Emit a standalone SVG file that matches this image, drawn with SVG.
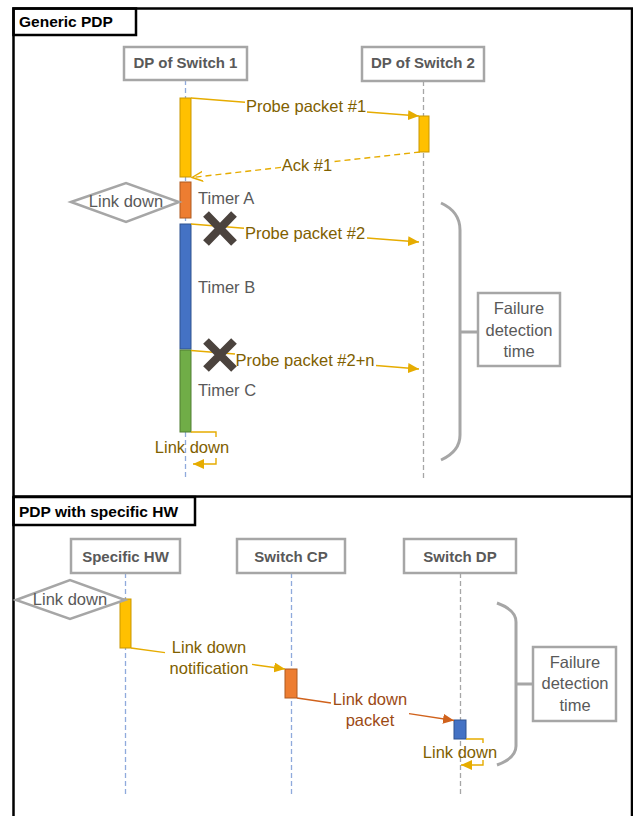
<svg xmlns="http://www.w3.org/2000/svg" width="633" height="816" viewBox="0 0 633 816">
  <style>
    .frame { fill: none; stroke: #000; stroke-width: 2.5; }
    .title { font-family: "Liberation Sans", Arial, sans-serif; font-size: 15.5px; font-weight: bold; fill: #000; }
    .head rect { fill: #fff; stroke: #a6a6a6; stroke-width: 2.5; }
    .head text { font-family: "Liberation Sans", Arial, sans-serif; font-size: 15px; font-weight: bold; fill: #595959; text-anchor: middle; }
    .life-b { stroke: #8faadc; stroke-width: 1.3; stroke-dasharray: 5 3; fill: none; }
    .life-g { stroke: #a6a6a6; stroke-width: 1.3; stroke-dasharray: 5 3; fill: none; }
    .lbl { font-family: "Liberation Sans", Arial, sans-serif; font-size: 16.5px; fill: #806000; }
    .lbl-o { font-family: "Liberation Sans", Arial, sans-serif; font-size: 16.5px; fill: #9c4a14; }
    .gray { font-family: "Liberation Sans", Arial, sans-serif; font-size: 16.5px; fill: #595959; }
    .mid { text-anchor: middle; }
    .msg { fill: none; stroke: #e6ac00; stroke-width: 1.4; }
    .msg-o { fill: none; stroke: #d0621c; stroke-width: 1.4; }
    .dash { stroke-dasharray: 6 4; }
    .bar-y { fill: #ffc000; stroke: #c99700; stroke-width: 1; }
    .bar-o { fill: #ed7d31; stroke: #ae5a21; stroke-width: 1; }
    .bar-b { fill: #4472c4; stroke: #2f528f; stroke-width: 1; }
    .bar-g { fill: #70ad47; stroke: #507e32; stroke-width: 1; }
    .diamond { fill: #fff; stroke: #a6a6a6; stroke-width: 2.5; }
    .brace { fill: none; stroke: #a6a6a6; stroke-width: 3; }
    .box { fill: #fff; stroke: #a6a6a6; stroke-width: 2.5; }
    .cross { stroke: #4b433e; stroke-width: 8; }
  </style>
  <defs>
    <marker id="arr" markerUnits="userSpaceOnUse" markerWidth="12" markerHeight="10" refX="11" refY="5" orient="auto">
      <path d="M0,0 L11,5 L0,10 Z" fill="#e6ac00"/>
    </marker>
    <marker id="arr-o" markerUnits="userSpaceOnUse" markerWidth="12" markerHeight="10" refX="11" refY="5" orient="auto">
      <path d="M0,0 L11,5 L0,10 Z" fill="#d0621c"/>
    </marker>
    <marker id="open" markerUnits="userSpaceOnUse" markerWidth="12" markerHeight="12" refX="11" refY="6" orient="auto">
      <path d="M0,1 L11,6 L0,11" fill="none" stroke="#e6ac00" stroke-width="1.4"/>
    </marker>
  </defs>

  <!-- panel frames -->
  <g id="frames">
    <rect class="frame" x="13.5" y="8.5" width="618.5" height="488"/>
    <path class="frame" d="M13.5,497 V816 M632,497 V816"/>
    <rect class="frame" x="13.5" y="8.5" width="122.5" height="26.5"/>
    <text class="title" x="19" y="27">Generic PDP</text>
    <rect class="frame" x="13.5" y="497" width="181.5" height="28"/>
    <text class="title" x="19" y="517">PDP with specific HW</text>
  </g>

  <!-- lifelines -->
  <g id="lifelines">
    <path class="life-b" d="M185.5,80 V478"/>
    <path class="life-g" d="M423.5,81 V478"/>
    <path class="life-b" d="M125.5,573 V797"/>
    <path class="life-b" d="M291.5,573 V797"/>
    <path class="life-g" d="M460.5,573 V797"/>
  </g>

  <!-- participants -->
  <g id="dp-switch-1" class="head">
    <rect x="124" y="47" width="123" height="33"/>
    <text x="185.5" y="68">DP of Switch 1</text>
  </g>
  <g id="dp-switch-2" class="head">
    <rect x="362" y="47" width="122" height="34"/>
    <text x="423" y="68">DP of Switch 2</text>
  </g>
  <g id="specific-hw" class="head">
    <rect x="71" y="539" width="109" height="34"/>
    <text x="125.5" y="562">Specific HW</text>
  </g>
  <g id="switch-cp" class="head">
    <rect x="237" y="539" width="108" height="34"/>
    <text x="291" y="562">Switch CP</text>
  </g>
  <g id="switch-dp" class="head">
    <rect x="404" y="539" width="112" height="34"/>
    <text x="460" y="562">Switch DP</text>
  </g>

  <!-- activation bars -->
  <g id="activations">
    <rect class="bar-y" x="180" y="98" width="11" height="79"/>
    <rect class="bar-o" x="180" y="182" width="11" height="36"/>
    <rect class="bar-b" x="180" y="224" width="11" height="125"/>
    <rect class="bar-g" x="180" y="350" width="11" height="82"/>
    <rect class="bar-y" x="419" y="116" width="10" height="36"/>
    <rect class="bar-y" x="120" y="599" width="11" height="49"/>
    <rect class="bar-o" x="285" y="669" width="12" height="29"/>
    <rect class="bar-b" x="454" y="720" width="12" height="19"/>
  </g>

  <!-- link-down events -->
  <g id="link-down-1">
    <polygon class="diamond" points="71,202 126,183 179,202 126,222"/>
    <text class="gray mid" x="126" y="207">Link down</text>
  </g>
  <g id="link-down-2">
    <polygon class="diamond" points="16,600 70,580 125,600 70,619"/>
    <text class="gray mid" x="70" y="605">Link down</text>
  </g>

  <!-- timers -->
  <g id="timers">
    <text class="gray" x="198" y="204">Timer A</text>
    <text class="gray" x="198" y="293">Timer B</text>
    <text class="gray" x="198" y="396">Timer C</text>
  </g>

  <!-- messages -->
  <g id="connectors">
    <path class="msg" d="M191,98 L245,102.3 M367,112 L419,116" marker-end="url(#arr)"/>
    <path class="msg dash" d="M420,152 L333,161.7 M281,167.4 L192,177.5" marker-end="url(#open)"/>
    <path class="msg" d="M191,224 L244,228.2 M367,238 L419,242" marker-end="url(#arr)"/>
    <path class="msg" d="M191,350.5 L235,354 M376,365.5 L419,369" marker-end="url(#arr)"/>
    <path class="msg" d="M191,432 H216 V437 M216,458 V464 H193" marker-end="url(#arr)"/>
    <path class="msg" d="M131,648 L165,652.6 M252,664.4 L285,669" marker-end="url(#arr)"/>
    <path class="msg-o" d="M297,698 L331,703 M409,713.6 L454,720.5" marker-end="url(#arr-o)"/>
    <path class="msg" d="M466,739 H483 V743 M483,760 V765 H461" marker-end="url(#arr)"/>
  </g>

  <!-- message labels -->
  <g id="labels">
    <text class="lbl mid" x="306" y="112">Probe packet #1</text>
    <text class="lbl mid" x="307" y="171">Ack #1</text>
    <text class="lbl mid" x="305" y="239">Probe packet #2</text>
    <text class="lbl mid" x="305" y="366">Probe packet #2+n</text>
    <text class="lbl mid" x="192" y="453">Link down</text>
    <text class="lbl mid" x="209" y="653">Link down</text>
    <text class="lbl mid" x="209" y="674">notification</text>
    <text class="lbl-o mid" x="370" y="705">Link down</text>
    <text class="lbl-o mid" x="370" y="726">packet</text>
    <text class="lbl mid" x="460" y="758">Link down</text>
  </g>

  <!-- lost probes -->
  <g id="lost-probes">
    <path class="cross" d="M206,214 L234,243 M234,214 L206,243"/>
    <path class="cross" d="M206,341 L234,369 M234,341 L206,369"/>
  </g>

  <!-- failure detection time, generic -->
  <g id="failure-time-1">
    <path class="brace" d="M441,203 C452,208 460,217 460,230 V435 C460,447 452,455 441,460 M460,332 H478"/>
    <rect class="box" x="478" y="293" width="82" height="73"/>
    <text class="gray mid" x="519" y="314">Failure</text>
    <text class="gray mid" x="519" y="336">detection</text>
    <text class="gray mid" x="519" y="357">time</text>
  </g>

  <!-- failure detection time, specific HW -->
  <g id="failure-time-2">
    <path class="brace" d="M497,603 C508,607 516,613 516,622 V746 C516,755 508,761 497,765 M516,684 H533"/>
    <rect class="box" x="533" y="647" width="83" height="74"/>
    <text class="gray mid" x="575" y="668">Failure</text>
    <text class="gray mid" x="575" y="689">detection</text>
    <text class="gray mid" x="575" y="711">time</text>
  </g>
</svg>
